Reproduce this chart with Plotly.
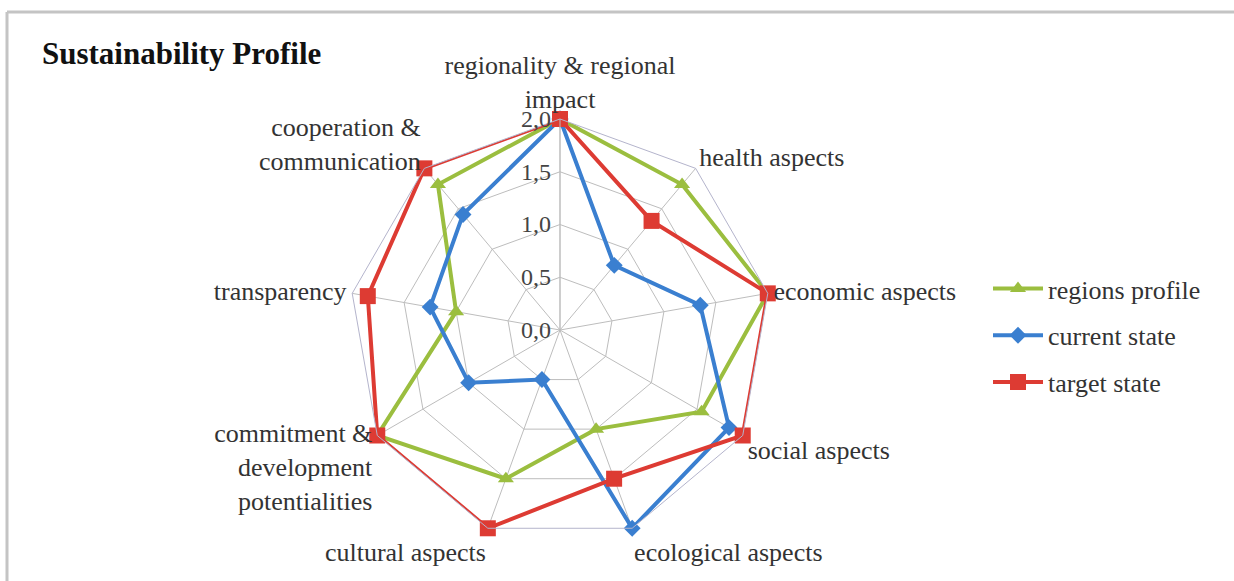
import plotly.graph_objects as go

categories = [
    "regionality & regional<br>impact",
    "health aspects",
    "economic aspects",
    "social aspects",
    "ecological aspects",
    "cultural aspects",
    "commitment &<br>development<br>potentialities",
    "transparency",
    "cooperation &<br>communication",
]
regions_profile = [2.0, 1.8, 2.0, 1.55, 1.0, 1.5, 2.0, 1.0, 1.8]
current_state = [2.0, 0.8, 1.35, 1.85, 2.0, 0.5, 1.0, 1.25, 1.43]
target_state = [2.0, 1.35, 2.0, 2.0, 1.5, 2.0, 2.0, 1.85, 2.0]
series_names = ["regions profile", "current state", "target state"]
tick_vals = [0, 0.5, 1.0, 1.5, 2.0]

W, H = 1234, 581
FONT = "Liberation Serif"

def closed(v):
    return list(v) + [v[0]]

fig = go.Figure()
specs = [
    (series_names[0], regions_profile, "#9BBE3F", "triangle-up", 14),
    (series_names[1], current_state, "#3A7FD0", "diamond", 13),
    (series_names[2], target_state, "#DD3B33", "square", 16),
]
for i, (name, vals, col, sym, ms) in enumerate(specs):
    fig.add_trace(go.Scatterpolar(
        r=closed(vals), theta=closed(categories), name=name, mode="lines+markers",
        line=dict(color=col, width=4), marker=dict(symbol=sym, size=ms, color=col),
        legendgroup="g%d" % i,
    ))

cx, cy, R = 560, 330, 211
fig.update_layout(
    width=W, height=H,
    margin=dict(l=0, r=0, t=0, b=0),
    paper_bgcolor="white",
    separators=",.",
    font=dict(family=FONT, size=26, color="#333333"),
    polar=dict(
        domain=dict(x=[(cx - R) / W, (cx + R) / W], y=[1 - (cy + R) / H, 1 - (cy - R) / H]),
        gridshape="linear",
        bgcolor="white",
        angularaxis=dict(direction="clockwise", rotation=90, gridcolor="#bdbdbd", gridwidth=1,
                         linecolor="#b4b4cc", linewidth=1, showline=True,
                         tickfont=dict(family=FONT, size=26, color="#333333"), ticks=""),
        radialaxis=dict(range=[0, 2], tickvals=tick_vals, tickformat=".1f", angle=90,
                        gridcolor="#bdbdbd", gridwidth=1, showline=True, linecolor="#bdbdbd",
                        tickfont=dict(family=FONT, size=24, color="#444444"),
                        side="counterclockwise", tickangle=90, ticks=""),
    ),
    legend=dict(x=988 / W, y=1 - 265 / H, xanchor="left", yanchor="top",
                font=dict(family=FONT, size=26, color="#333333"),
                tracegroupgap=10, itemwidth=50, bgcolor="rgba(0,0,0,0)"),
    annotations=[dict(text="<b>Sustainability Profile</b>", x=40 / W, y=1 - 53 / H,
                      xref="paper", yref="paper", xanchor="left", yanchor="middle",
                      showarrow=False, font=dict(family=FONT, size=31, color="#111111"))],
    shapes=[
        dict(type="line", xref="paper", yref="paper", x0=7 / W, x1=1.01, y0=1 - 12 / H, y1=1 - 12 / H,
             line=dict(color="#c4c4c4", width=3)),
        dict(type="line", xref="paper", yref="paper", x0=7 / W, x1=7 / W, y0=1 - 12 / H, y1=-0.01,
             line=dict(color="#c4c4c4", width=3)),
    ],
)

fig.write_html("out.html")
